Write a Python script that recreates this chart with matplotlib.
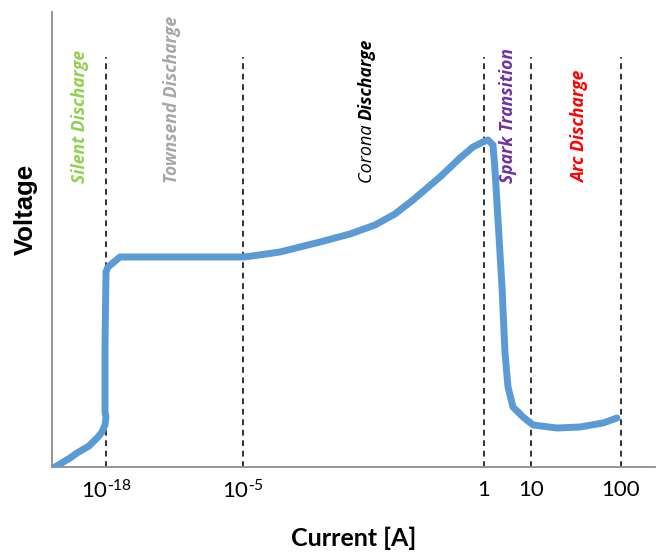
import matplotlib
matplotlib.use("Agg")
import matplotlib.pyplot as plt

plt.rcParams['font.family'] = ['Lato', 'DejaVu Sans']
plt.rcParams['mathtext.default'] = 'regular'

# Schematic V-I characteristic of a gas discharge (arbitrary plot units)
tick_pos = [54, 191, 432, 479, 569]
tick_labels = [r'$10^{\text{-}18}$', r'$10^{\text{-}5}$', '1', '10', '100']
boundary_pos = [54, 191, 432, 479, 569]

current = [3, 18, 25, 37, 46, 50, 53, 54, 53, 53, 54, 56, 62, 68, 100, 150, 181, 191,
           200, 228, 248, 268, 298, 323, 343, 361, 388, 408, 421, 431, 436, 441,
           443, 446, 450, 453, 456, 461, 471, 481, 505, 528, 551, 565]
voltage = [0, 9, 14, 21, 30, 35, 42, 50, 55, 120, 195, 200, 205, 210, 210, 210, 210, 210,
           211, 215, 220, 225, 233, 242, 253, 267, 290, 309, 320, 325, 327, 322,
           297, 247, 180, 114, 80, 60, 50, 42, 39, 40, 44, 49]

label_font = ['Open Sans', 'Lato', 'DejaVu Sans']
regions = [
    (28, 'Silent Discharge', '#92d050'),
    (120, 'Townsend Discharge', '#a6a6a6'),
    (456, 'Spark Transition', '#7030a0'),
    (528, 'Arc Discharge', '#ff0000'),
]

fig = plt.figure(figsize=(6.58, 5.54), dpi=100)
ax = fig.add_axes([52 / 658, 87 / 554, 603 / 658, 455 / 554])
ax.set_xlim(0, 603)
ax.set_ylim(0, 455)

for x in boundary_pos:
    ax.plot([x, x], [0, 410], color='#222222', lw=1.3, ls=(0, (3.2, 2.6)), zorder=1)

ax.plot(current, voltage, color='#5b9bd5', lw=5.0, solid_capstyle='round',
        solid_joinstyle='round', zorder=3)

label_y = 284
for x, text, col in regions:
    ax.text(x, label_y, text, rotation=90, ha='center', va='bottom', color=col,
            fontsize=12.6, fontstyle='italic', fontweight='bold', family=label_font)

# Corona label: light "Corona" followed by bold "Discharge"
t1 = ax.text(315, label_y, 'Corona ', rotation=90, ha='center', va='bottom',
             color='black', fontsize=13, fontstyle='italic', family=label_font)
fig.canvas.draw()
bb = t1.get_window_extent().transformed(ax.transData.inverted())
ax.text(315, bb.y1, 'Discharge', rotation=90, ha='center', va='bottom',
        color='black', fontsize=12.6, fontstyle='italic', fontweight='bold',
        family=label_font)

ax.set_xticks(tick_pos)
ax.set_xticklabels(tick_labels, fontsize=16)
ax.set_yticks([])
ax.tick_params(axis='x', length=0, pad=9)

for side in ('top', 'right'):
    ax.spines[side].set_visible(False)
for side in ('left', 'bottom'):
    ax.spines[side].set_color('#8c8c8c')
    ax.spines[side].set_linewidth(1.3)

ax.set_xlabel('Current [A]', fontsize=18, fontweight='bold', labelpad=17)
ax.set_ylabel('Voltage', fontsize=18.5, fontweight='bold',
              family=['Liberation Sans', 'DejaVu Sans'])
ax.yaxis.set_label_coords(-0.024, 0.565)

fig.savefig('out.png', dpi=100)
